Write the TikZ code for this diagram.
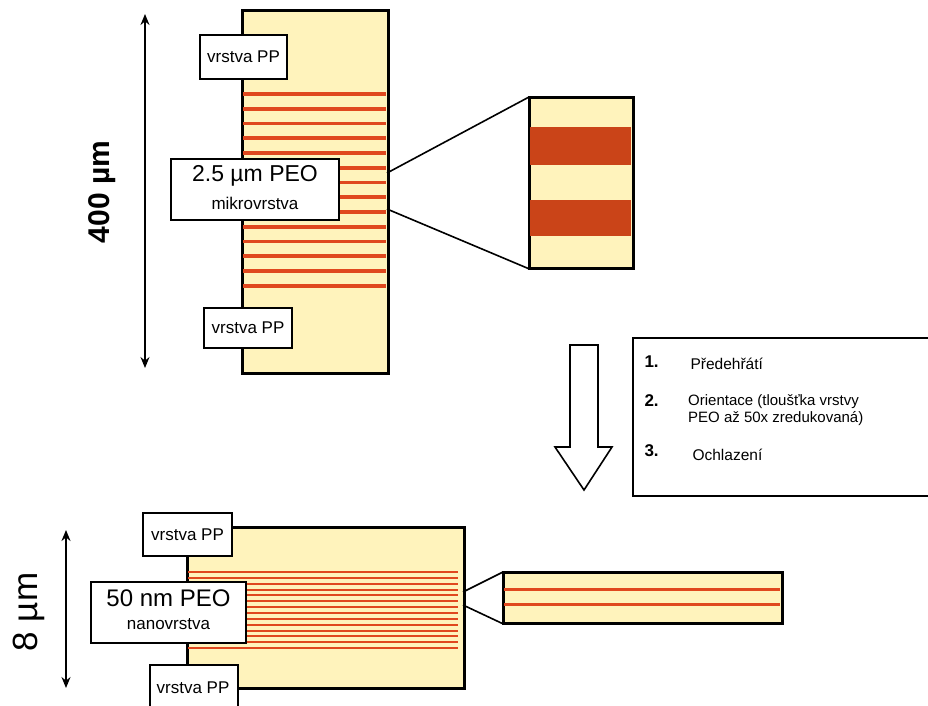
\documentclass[tikz,border=0pt]{standalone}
\usepackage{fontspec}
\setmainfont{Liberation Sans}
\usetikzlibrary{arrows.meta}
\definecolor{cream}{RGB}{255,243,188}
\definecolor{stripe}{RGB}{224,72,30}
\definecolor{band}{RGB}{202,68,24}
\tikzset{
  film/.style={draw=black, line width=1.8pt, fill=cream},
  lbl/.style={draw=black, line width=1.8pt, fill=white, inner sep=0pt, align=center},
  zoomline/.style={draw=black, line width=1.6pt},
  dim/.style={line width=1.6pt, {Stealth[length=11pt,width=9pt]}-{Stealth[length=11pt,width=9pt]}},
  stripeline/.style={draw=stripe, line width=3.6pt},
  thinstripe/.style={draw=stripe, line width=2pt},
}
\begin{document}
\begin{tikzpicture}[x=1pt,y=-1pt]
\useasboundingbox (0,0) rectangle (928,705);
% ---------- top sample ----------
\node[film, anchor=north west, minimum width=145pt, minimum height=362pt, inner sep=0pt] (topfilm) at (242,10) {};
\foreach \i in {0,...,13} {
  \draw[stripeline] (242.7,{94+\i*14.75}) -- (386.3,{94+\i*14.75});
}
\draw[line width=1.8pt] (topfilm.north west) rectangle (topfilm.south east);
% zoomed detail
\node[film, anchor=north west, minimum width=103pt, minimum height=170pt, inner sep=0pt] (topzoom) at (529,97) {};
\fill[band] (529.7,127) rectangle (631.3,165);
\fill[band] (529.7,200) rectangle (631.3,236);
\draw[line width=1.8pt] (topzoom.north west) rectangle (topzoom.south east);
\coordinate (ta) at (387,173);
\coordinate (tb) at (387,209);
\draw[zoomline] (ta) -- (topzoom.north west);
\draw[zoomline] (tb) -- (topzoom.south west);
% labels
\node[lbl, minimum width=87pt, minimum height=44pt, font=\fontsize{17}{19}\selectfont] (pp1) at (243.5,57) {vrstva PP};
\node[lbl, minimum width=168pt, minimum height=61pt] (peo1) at (255,189.5) {};
\node[font=\fontsize{23}{25}\selectfont] (peo1a) at (255,176) {2.5 µm PEO};
\node[font=\fontsize{17}{19}\selectfont] (peo1b) at (255,203) {mikrovrstva};
\node[lbl, minimum width=88pt, minimum height=40pt, font=\fontsize{17}{19}\selectfont] (pp2) at (248,328) {vrstva PP};
% dimension
\coordinate (d1a) at (145,14);
\coordinate (d1b) at (145,368);
\draw[dim] (d1a) -- (d1b);
\node[rotate=90, font=\fontsize{30}{32}\selectfont\bfseries] (t400) at (102,192) {400 µm};
% ---------- process arrow and steps ----------
\draw[line width=1.6pt, fill=white] (570,345) -- (598,345) -- (598,447) -- (612,447) -- (584,490) -- (555,447) -- (570,447) -- cycle;
\node[draw=black, line width=1.8pt, anchor=north west, minimum width=300pt, minimum height=158pt, inner sep=0pt] (steps) at (632,337) {};
\node[font=\fontsize{17}{19}\selectfont\bfseries, anchor=west] (n1) at (641,362) {1.};
\node[font=\fontsize{15.5}{17}\selectfont, anchor=west] (s1) at (687,363.5) {Předehřátí};
\node[font=\fontsize{17}{19}\selectfont\bfseries, anchor=west] (n2) at (641,401) {2.};
\node[font=\fontsize{15}{17.5}\selectfont, anchor=north west, align=left, inner sep=0pt] (s2) at (688,394) {Orientace (tloušťka vrstvy\\PEO až 50x zredukovaná)};
\node[font=\fontsize{17}{19}\selectfont\bfseries, anchor=west] (n3) at (641,451) {3.};
\node[font=\fontsize{15.5}{17}\selectfont, anchor=west] (s3) at (689,455) {Ochlazení};
% ---------- bottom sample ----------
\node[film, anchor=north west, minimum width=276pt, minimum height=160pt, inner sep=0pt] (botfilm) at (187,527) {};
\foreach \i in {0,...,13} {
  \draw[thinstripe] (187.7,{572+\i*5.85}) -- (458,{572+\i*5.85});
}
\draw[line width=1.8pt] (botfilm.north west) rectangle (botfilm.south east);
\node[film, anchor=north west, minimum width=278pt, minimum height=50pt, inner sep=0pt] (botzoom) at (503,572) {};
\draw[draw=stripe, line width=3pt] (503.7,589) -- (780.3,589);
\draw[draw=stripe, line width=3pt] (503.7,604) -- (780.3,604);
\draw[line width=1.8pt] (botzoom.north west) rectangle (botzoom.south east);
\coordinate (ba) at (463,592);
\coordinate (bb) at (463,605);
\draw[zoomline] (ba) -- (botzoom.north west);
\draw[zoomline] (bb) -- (botzoom.south west);
\node[lbl, minimum width=89pt, minimum height=43pt, font=\fontsize{17}{19}\selectfont] (pp3) at (187.5,534.5) {vrstva PP};
\node[lbl, minimum width=155pt, minimum height=61pt] (peo2) at (168.5,612.5) {};
\node[font=\fontsize{24}{26}\selectfont] (peo2a) at (168.5,598) {50 nm PEO};
\node[font=\fontsize{17}{19}\selectfont] (peo2b) at (168.5,624) {nanovrstva};
\node[lbl, anchor=north west, minimum width=88pt, minimum height=50pt] (pp4) at (149,664) {};
\node[font=\fontsize{17}{19}\selectfont] (pp4t) at (193,688) {vrstva PP};
\coordinate (d2a) at (66,530);
\coordinate (d2b) at (66,688);
\draw[dim] (d2a) -- (d2b);
\node[rotate=90, font=\fontsize{35}{37}\selectfont] (t8) at (29,612) {8 µm};
\end{tikzpicture}
\end{document}
